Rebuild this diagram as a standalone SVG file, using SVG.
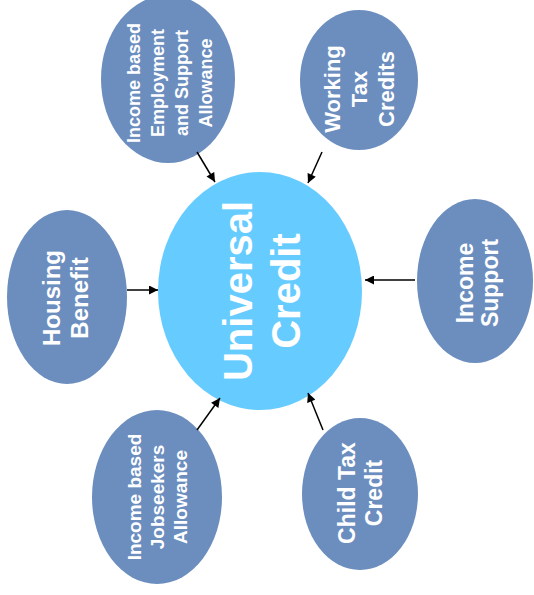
<svg xmlns="http://www.w3.org/2000/svg" width="534" height="595" viewBox="0 0 534 595">
<style>
.node{fill:#6c8ebf;}
.center{fill:#66ccff;}
text{font-family:"Liberation Sans",Arial,sans-serif;font-weight:bold;fill:#ffffff;text-anchor:middle;}
.conn line{stroke:#000;stroke-width:1.5;marker-end:url(#arr);}
</style>
<defs>
<marker id="arr" viewBox="0 0 10 10" refX="10" refY="5" markerWidth="10" markerHeight="9" markerUnits="userSpaceOnUse" orient="auto">
<path d="M0,0 L10,5 L0,10 z" fill="#000"/>
</marker>
</defs>
<rect width="534" height="595" fill="#ffffff"/>
<g id="universal-credit">
<ellipse class="center" cx="260" cy="291" rx="102" ry="119"/>
<text transform="translate(260,291) rotate(-90)" font-size="40"><tspan x="0" y="-8">Universal</tspan><tspan x="0" y="40">Credit</tspan></text>
</g>
<g id="esa">
<ellipse class="node" cx="168" cy="79" rx="67" ry="84"/>
<text transform="translate(168,83) rotate(-90)" font-size="18"><tspan x="0" y="-28">Income based</tspan><tspan x="0" y="-4">Employment</tspan><tspan x="0" y="20">and Support</tspan><tspan x="0" y="44">Allowance</tspan></text>
</g>
<g id="wtc">
<ellipse class="node" cx="359" cy="80" rx="59" ry="70"/>
<text transform="translate(359,89) rotate(-90)" font-size="22"><tspan x="0" y="-19">Working</tspan><tspan x="0" y="8">Tax</tspan><tspan x="0" y="35">Credits</tspan></text>
</g>
<g id="housing">
<ellipse class="node" cx="67" cy="297" rx="60" ry="87"/>
<text transform="translate(67,298) rotate(-90)" font-size="24"><tspan x="0" y="-7">Housing</tspan><tspan x="0" y="21">Benefit</tspan></text>
</g>
<g id="income-support">
<ellipse class="node" cx="475" cy="281" rx="58" ry="82"/>
<text transform="translate(475,283) rotate(-90)" font-size="23"><tspan x="0" y="-2">Income</tspan><tspan x="0" y="23">Support</tspan></text>
</g>
<g id="jsa">
<ellipse class="node" cx="157" cy="497" rx="65" ry="87"/>
<text transform="translate(157,497) rotate(-90)" font-size="19"><tspan x="0" y="-16">Income based</tspan><tspan x="0" y="7">Jobseekers</tspan><tspan x="0" y="30">Allowance</tspan></text>
</g>
<g id="ctc">
<ellipse class="node" cx="360" cy="494" rx="58" ry="76"/>
<text transform="translate(360,493) rotate(-90)" font-size="23"><tspan x="0" y="-5">Child Tax</tspan><tspan x="0" y="22">Credit</tspan></text>
</g>
<g id="connectors" class="conn">
<line x1="197" y1="152" x2="215" y2="182"/>
<line x1="322" y1="152" x2="308" y2="183"/>
<line x1="127" y1="290" x2="158" y2="290"/>
<line x1="415" y1="280" x2="365" y2="280"/>
<line x1="197" y1="430" x2="220" y2="398"/>
<line x1="323" y1="430" x2="308" y2="393"/>
</g>
</svg>
